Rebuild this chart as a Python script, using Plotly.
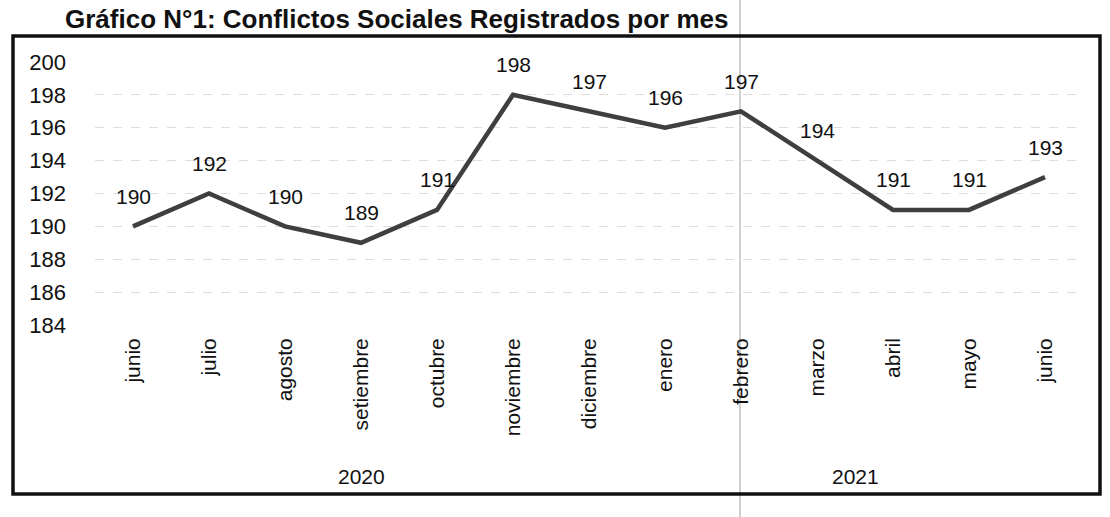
import plotly.graph_objects as go

# ---- data ----
months = ["junio", "julio", "agosto", "setiembre", "octubre", "noviembre",
          "diciembre", "enero", "febrero", "marzo", "abril", "mayo", "junio"]
years = ["2020", "2020", "2020", "2020", "2020", "2020", "2020",
         "2021", "2021", "2021", "2021", "2021", "2021"]
conflicts = [190, 192, 190, 189, 191, 198, 197, 196, 197, 194, 191, 191, 193]
y_ticks = [184, 186, 188, 190, 192, 194, 196, 198, 200]
title_text = "Gráfico N°1: Conflictos Sociales Registrados por mes"

# ---- layout geometry (pixels) ----
W, H = 1110, 517
ML, MR, MT, MB = 95, 27, 62, 192
PW, PH = W - ML - MR, H - MT - MB

def px_x(p):
    return (p - ML) / PW

def px_y(p):
    return (H - MB - p) / PH

FONT = "Arial, Liberation Sans, sans-serif"
idx = list(range(len(months)))

fig = go.Figure()
fig.add_trace(go.Scatter(
    x=idx, y=conflicts, mode="lines",
    line=dict(color="#3f3f3f", width=4.5),
    hoverinfo="skip", showlegend=False,
))

annotations = []
for i, v in zip(idx, conflicts):
    annotations.append(dict(
        x=i, y=v, xref="x", yref="y", text=str(v), showarrow=False,
        yshift=30, font=dict(family=FONT, size=21, color="#111111"),
    ))

# year group labels centered under each group of months
for yr in dict.fromkeys(years):
    members = [i for i, y in zip(idx, years) if y == yr]
    centre = sum(members) / len(members)
    annotations.append(dict(
        x=centre, xref="x", y=px_y(476), yref="paper", text=yr,
        showarrow=False, yanchor="middle",
        font=dict(family=FONT, size=21, color="#111111"),
    ))

annotations.append(dict(
    x=px_x(63), xref="paper", y=px_y(2), yref="paper", text="<b>" + title_text + "</b>",
    showarrow=False, xanchor="left", yanchor="top",
    font=dict(family=FONT, size=26, color="#111111"),
))

shapes = [
    # outer frame
    dict(type="rect", xref="paper", yref="paper",
         x0=px_x(13), x1=px_x(1100), y0=px_y(494), y1=px_y(36),
         line=dict(color="#111111", width=3.5), layer="above"),
    # light scan fold
    dict(type="line", xref="paper", yref="paper",
         x0=px_x(740), x1=px_x(740), y0=px_y(517), y1=px_y(0),
         line=dict(color="#cfcfcf", width=2), layer="below"),
]

fig.update_layout(
    width=W, height=H,
    margin=dict(l=ML, r=MR, t=MT, b=MB, autoexpand=False),
    paper_bgcolor="white", plot_bgcolor="white",
    annotations=annotations, shapes=shapes,
    xaxis=dict(
        range=[-0.5, len(months) - 0.5], tickmode="array",
        tickvals=idx, ticktext=months, tickangle=-90,
        tickfont=dict(family=FONT, size=21, color="#111111"),
        showgrid=False, zeroline=False, showline=False, ticks="",
        ticklabelstandoff=8,
    ),
    yaxis=dict(
        range=[184, 200], tickmode="array", tickvals=y_ticks,
        tickfont=dict(family=FONT, size=22, color="#111111"),
        showgrid=True, gridcolor="#dedede", gridwidth=1, griddash="dash",
        zeroline=False, showline=False, ticks="", ticklabelstandoff=28,
    ),
)

fig.write_html("out.html")
